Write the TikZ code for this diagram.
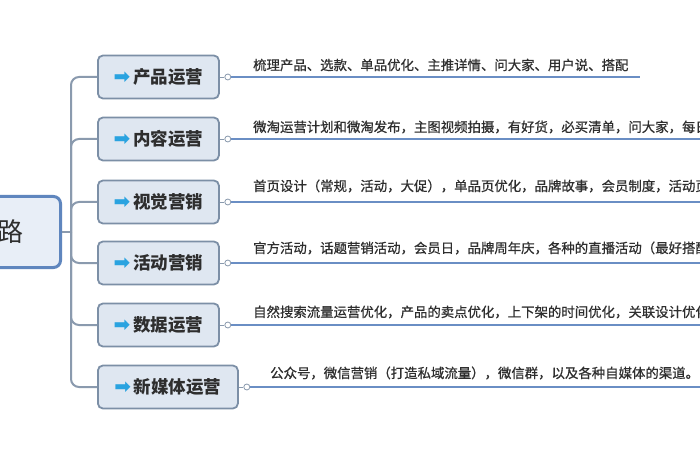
\documentclass[tikz,border=0pt]{standalone}
\usepackage{fontspec}
\newfontfamily\cjk{Noto Sans CJK SC}
\newfontfamily\cjkd[FakeBold=0.7]{Noto Sans CJK SC}
\newfontfamily\dejavu{DejaVu Sans}
\definecolor{boxfill}{HTML}{DFE7F1}
\definecolor{boxdraw}{HTML}{7C8FA6}
\definecolor{rootdraw}{HTML}{5F86BE}
\definecolor{rootfill}{HTML}{E8EEF7}
\definecolor{conn}{HTML}{8A9AAE}
\definecolor{mline}{HTML}{6A8EC4}
\definecolor{arrcol}{HTML}{2AA3E0}
\definecolor{txt}{HTML}{2E2E2E}
\newcommand{\arr}{{\dejavu\color{arrcol}\fontsize{20}{20}\selectfont ➡}}
\tikzset{
  box/.style={draw=boxdraw, line width=1.8pt, fill=boxfill, rounded corners=5pt,
    minimum height=43pt, inner sep=0pt, anchor=west,
    font=\cjk\bfseries\fontsize{17.5}{17.5}\selectfont, text=txt},
  rootbox/.style={draw=rootdraw, line width=3pt, fill=rootfill, rounded corners=7pt,
    minimum height=71pt, minimum width=100pt, inner sep=0pt, anchor=east,
    font=\cjk\fontsize{26}{26}\selectfont, text=txt},
  desc/.style={anchor=west, inner sep=0pt, font=\cjkd\fontsize{13.4}{13.4}\selectfont, text=txt},
  dot/.style={circle, draw=conn, fill=white, line width=0.8pt, minimum size=6pt, inner sep=0pt},
  conline/.style={draw=conn, line width=2pt, rounded corners=8pt},
  mainline/.style={draw=mline, line width=1.8pt},
}
\begin{document}
\begin{tikzpicture}[x=1pt,y=-1pt]
\useasboundingbox (0,0) rectangle (700,470);
\fill[white] (0,0) rectangle (700,470);
\clip (0,0) rectangle (700,470);

\node[rootbox] (r) at (62,232) {路};

\node[box, minimum width=121pt] (b1) at (97,77) {\arr\,产品运营};
\node[box, minimum width=121pt] (b2) at (97,139) {\arr\,内容运营};
\node[box, minimum width=121pt] (b3) at (97,202) {\arr\,视觉营销};
\node[box, minimum width=121pt] (b4) at (97,263) {\arr\,活动营销};
\node[box, minimum width=121pt] (b5) at (97,325) {\arr\,数据运营};
\node[box, minimum width=140pt] (b6) at (97,387) {\arr\,新媒体运营};

\coordinate (j) at (71,232);
\draw[conline] (r.east) -- (j);
\foreach \i in {1,2,3,4,5,6}{
  \draw[conline] (j) |- (b\i.west);
}

\node[dot] (c1) at ([xshift=8pt]b1.east) {};
\node[dot] (c2) at ([xshift=8pt]b2.east) {};
\node[dot] (c3) at ([xshift=8pt]b3.east) {};
\node[dot] (c4) at ([xshift=8pt]b4.east) {};
\node[dot] (c5) at ([xshift=8pt]b5.east) {};
\node[dot] (c6) at ([xshift=8pt]b6.east) {};
\foreach \i in {1,...,6}{
  \draw[draw=conn, line width=0.8pt] (b\i.east) -- (c\i.west);
}

\coordinate (e1) at (640,77);
\coordinate (e2) at (705,139);
\coordinate (e3) at (705,202);
\coordinate (e4) at (705,263);
\coordinate (e5) at (705,325);
\coordinate (e6) at (705,387);
\foreach \i in {1,...,6}{
  \draw[mainline] (c\i.east) -- (e\i);
}

\node[desc] (t1) at (253,65) {梳理产品、选款、单品优化、主推详情、问大家、用户说、搭配};
\node[desc] (t2) at (253,127) {微淘运营计划和微淘发布，主图视频拍摄，有好货，必买清单，问大家，每日};
\node[desc] (t3) at (253,186) {首页设计（常规，活动，大促），单品页优化，品牌故事，会员制度，活动页};
\node[desc] (t4) at (253,248) {官方活动，话题营销活动，会员日，品牌周年庆，各种的直播活动（最好搭配};
\node[desc] (t5) at (253,312) {自然搜索流量运营优化，产品的卖点优化，上下架的时间优化，关联设计优化};
\node[desc] (t6) at (270,373) {公众号，微信营销（打造私域流量），微信群，以及各种自媒体的渠道。};
\end{tikzpicture}
\end{document}
